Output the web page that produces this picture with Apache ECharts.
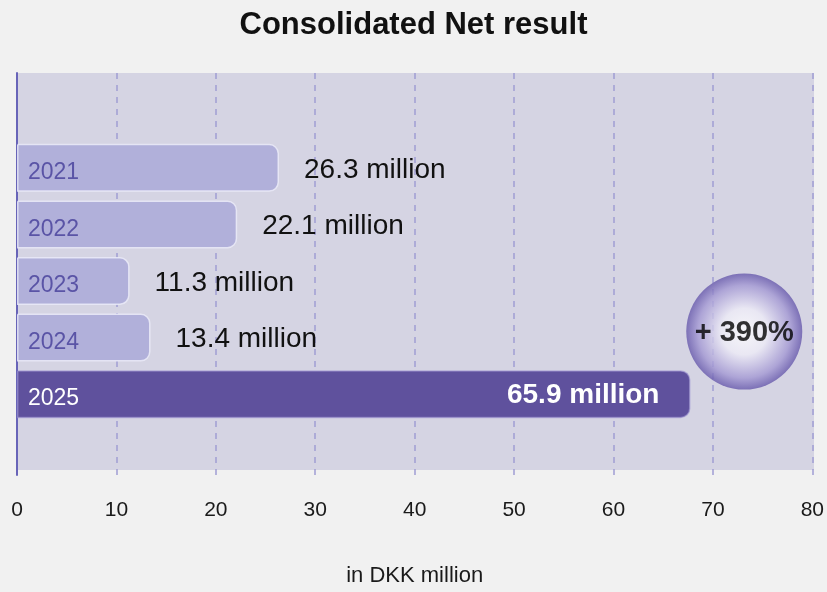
<!DOCTYPE html>
<html>
<head>
<meta charset="utf-8">
<script src="https://cdn.jsdelivr.net/npm/echarts@6/dist/echarts.min.js"></script>
<style>
html,body{margin:0;padding:0;background:#f1f1f1;}
#chart{width:827px;height:592px;}
</style>
</head>
<body>
<div id="chart"></div>
<script>
const title = 'Consolidated Net result';
const axisName = 'in DKK million';
const categories = ['2021', '2022', '2023', '2024', '2025'];
const barValues = [26.3, 22.1, 11.3, 13.4, 67.6];
const valueLabels = ['26.3 million', '22.1 million', '11.3 million', '13.4 million', '65.9 million'];
const xMin = 0, xMax = 80, xStep = 10;
const growthLabel = '+ 390%';
const growthPoint = [73, '2024'];

const FONT = '"Liberation Sans", Arial, Helvetica, sans-serif';
const LIGHT = '#b1b0da';
const DARK = '#5f519d';
const highlight = categories.length - 1;

const yCats = [''].concat(categories, [' ']);

const chart = echarts.init(document.getElementById('chart'), null, {renderer: 'canvas'});

const barData = categories.map((c, i) => ({
  value: [barValues[i], c],
  itemStyle: {
    color: i === highlight ? DARK : LIGHT,
    borderColor: i === highlight ? 'rgba(160,150,210,0.6)' : 'rgba(235,235,248,0.85)'
  },
  label: {color: i === highlight ? '#ffffff' : '#5a54a6'}
}));

const overlayData = categories.map((c, i) => {
  const d = {value: [barValues[i], c]};
  if (i === highlight) {
    d.label = {position: 'insideRight', distance: 31, color: '#ffffff', fontWeight: 'bold', offset: [0, 1]};
  }
  return d;
});

chart.setOption({
  backgroundColor: '#f1f1f1',
  animation: false,
  title: {
    text: title,
    left: 'center',
    top: 5,
    textStyle: {fontFamily: FONT, fontSize: 31, fontWeight: 'bold', color: '#111'}
  },
  grid: [
    {left: 17, right: 13, top: 73, bottom: 112},
    {left: 16, right: 13, top: 73, bottom: 122, show: true, backgroundColor: '#d5d4e3', borderWidth: 0},
    {left: 17, right: 13, top: 83, bottom: 113}
  ],
  xAxis: [
    {
      gridIndex: 0, type: 'value', min: xMin, max: xMax, interval: xStep,
      axisLine: {show: false}, axisTick: {show: false},
      splitLine: {show: true, lineStyle: {color: '#a09dd4', width: 1.5, type: [6, 6]}},
      axisLabel: {margin: 25, fontSize: 21, color: '#1a1a1a', fontFamily: FONT},
      name: axisName, nameLocation: 'middle', nameGap: 90,
      nameTextStyle: {fontSize: 22, color: '#1a1a1a', fontFamily: FONT}
    },
    {gridIndex: 1, type: 'value', min: xMin, max: xMax, show: false},
    {gridIndex: 2, type: 'value', min: xMin, max: xMax, show: false}
  ],
  yAxis: [
    {
      gridIndex: 0, type: 'value', min: 0, max: 1,
      axisLine: {show: true, lineStyle: {color: '#6864b8', width: 2}},
      axisTick: {show: false}, axisLabel: {show: false}, splitLine: {show: false}
    },
    {gridIndex: 1, type: 'value', show: false},
    {gridIndex: 2, type: 'category', data: yCats, inverse: true, show: false}
  ],
  series: [
    {
      type: 'bar', xAxisIndex: 2, yAxisIndex: 2, barWidth: 48, z: 3,
      data: barData,
      itemStyle: {borderWidth: 1.5, borderRadius: [0, 9, 9, 0]},
      label: {
        show: true, position: 'insideLeft', distance: 11, offset: [0, 5],
        fontSize: 23, fontFamily: FONT,
        formatter: p => p.value[1]
      }
    },
    {
      type: 'bar', xAxisIndex: 2, yAxisIndex: 2, barWidth: 48, barGap: '-100%', z: 4,
      silent: true,
      data: overlayData,
      itemStyle: {color: 'rgba(0,0,0,0)'},
      label: {
        show: true, position: 'right', distance: 25, offset: [0, 2],
        fontSize: 28, fontFamily: FONT, color: '#111',
        formatter: p => valueLabels[p.dataIndex]
      }
    },
    {
      type: 'scatter', xAxisIndex: 2, yAxisIndex: 2, z: 5,
      symbol: 'circle', symbolSize: 116, symbolOffset: [0, -6],
      data: [growthPoint],
      itemStyle: {
        color: {
          type: 'radial', x: 0.5, y: 0.5, r: 0.5,
          colorStops: [
            {offset: 0, color: '#ffffff'},
            {offset: 0.4, color: '#eeecf7'},
            {offset: 0.8, color: '#a398d3'},
            {offset: 1, color: '#6658ab'}
          ]
        }
      },
      label: {
        show: true, position: 'inside', offset: [0, 1],
        formatter: () => growthLabel,
        fontSize: 29, fontWeight: 'bold', color: '#000', fontFamily: FONT,
        textBorderWidth: 0
      }
    }
  ]
});
</script>
</body>
</html>
